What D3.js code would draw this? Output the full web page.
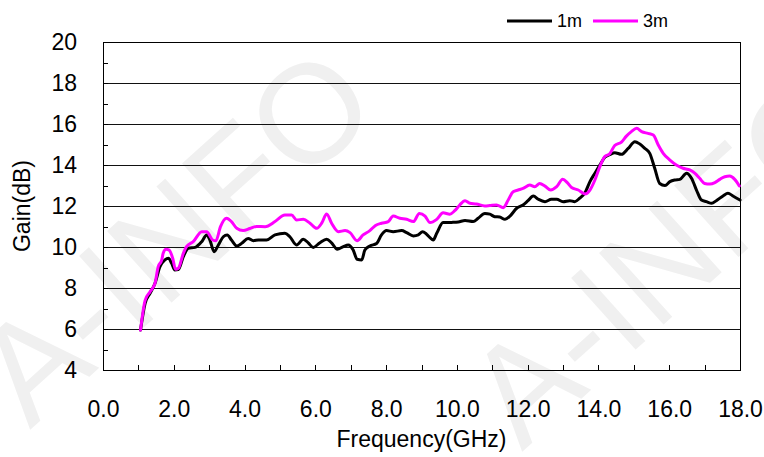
<!DOCTYPE html>
<html>
<head>
<meta charset="utf-8">
<script src="https://cdn.jsdelivr.net/npm/d3@7/dist/d3.min.js"></script>
<style>
  html, body { margin: 0; padding: 0; background: #fff; }
  svg { display: block; font-family: "Liberation Sans", Arial, sans-serif; }
</style>
</head>
<body>
<svg id="chart" width="764" height="457"></svg>
<script>
// ---- data ----
const seriesNames = ["1m", "3m"];
const seriesColors = ["#000000", "#ff00ff"];

const freq1m = [1.06, 1.19, 1.33, 1.47, 1.61, 1.75, 1.85, 1.94, 2.03, 2.13, 2.27, 2.41, 2.6, 2.79, 2.93, 3.02, 3.14, 3.26, 3.4, 3.51, 3.63, 3.78, 3.92, 4.1, 4.25, 4.39,
  4.62, 4.86, 5.14, 5.28, 5.47, 5.66, 5.8, 5.94, 6.13, 6.32, 6.46, 6.62, 6.79, 6.93, 7.07, 7.18, 7.31, 7.4, 7.54, 7.73,
  7.87, 8.01, 8.2, 8.44, 8.58, 8.77, 8.91, 9.03, 9.14, 9.24, 9.33, 9.43, 9.61, 9.85, 10.04, 10.23, 10.46, 10.6, 10.79, 10.93, 11.07, 11.21,
  11.36, 11.5, 11.69, 11.87, 12.01, 12.16, 12.3, 12.49, 12.67, 12.82, 13.0, 13.19, 13.33, 13.47, 13.62, 13.76, 13.9, 14.04, 14.18, 14.32, 14.46,
  14.65, 14.84, 15.03, 15.17, 15.31, 15.45, 15.59, 15.73, 15.88, 16.02, 16.16, 16.3, 16.49, 16.63, 16.77, 16.91, 17.05, 17.2, 17.33, 17.52, 17.66, 17.8, 18.0];
const gain1m = [5.95, 7.25, 7.74, 8.23, 9.04, 9.37, 9.45, 9.2, 8.88, 8.9, 9.53, 9.94, 9.98, 10.26, 10.59, 10.34, 9.77, 10.1, 10.5, 10.59, 10.34, 10.05, 10.18, 10.42, 10.31, 10.34,
  10.34, 10.59, 10.67, 10.5, 10.1, 10.38, 10.2, 9.98, 10.21, 10.38, 10.2, 9.89, 10.02, 10.1, 9.85, 9.4, 9.37, 9.85, 10.05, 10.17,
  10.59, 10.8, 10.75, 10.8, 10.7, 10.54, 10.59, 10.75, 10.63, 10.46, 10.34, 10.67, 11.19, 11.2, 11.22, 11.29, 11.24, 11.4, 11.64, 11.6, 11.48, 11.46,
  11.35, 11.51, 11.89, 12.05, 12.26, 12.49, 12.33, 12.21, 12.33, 12.33, 12.21, 12.26, 12.21, 12.38, 12.65, 13.19, 13.6, 14.0, 14.38, 14.5, 14.6,
  14.52, 14.81, 15.14, 15.02, 14.81, 14.57, 13.84, 13.1, 13.0, 13.19, 13.27, 13.3, 13.6, 13.35, 12.78, 12.29, 12.21, 12.13, 12.26, 12.49, 12.62, 12.49, 12.29];

const freq3m = [1.06, 1.19, 1.33, 1.47, 1.56, 1.66, 1.7, 1.78, 1.87, 1.97, 2.05, 2.13, 2.27, 2.36, 2.55, 2.79, 2.93, 3.1, 3.19, 3.32, 3.49, 3.63, 3.78, 3.96, 4.15, 4.34,
  4.58, 4.86, 5.14, 5.33, 5.47, 5.66, 5.85, 6.04, 6.18, 6.32, 6.46, 6.65, 6.84, 6.98, 7.18, 7.35, 7.54, 7.7, 7.87, 8.06, 8.2, 8.39, 8.58, 8.77,
  8.94, 9.1, 9.24, 9.43, 9.61, 9.8, 9.94, 10.08, 10.23, 10.37, 10.55, 10.79, 10.93, 11.12, 11.31, 11.45, 11.59, 11.73, 11.87, 12.06, 12.2, 12.34,
  12.49, 12.65, 12.82, 12.99, 13.12, 13.24, 13.43, 13.62, 13.76, 13.9, 14.04, 14.18, 14.32, 14.46, 14.65, 14.79, 14.93, 15.08, 15.22, 15.4, 15.55,
  15.69, 15.83, 16.02, 16.2, 16.39, 16.58, 16.72, 16.86, 17.0, 17.15, 17.29, 17.43, 17.57, 17.71, 17.85, 17.98];
const gain3m = [5.95, 7.4, 7.82, 8.23, 9.04, 9.37, 9.69, 9.89, 9.85, 9.45, 8.91, 8.96, 9.69, 10.02, 10.26, 10.75, 10.75, 10.34, 10.3, 10.99, 11.4, 11.24, 10.91, 10.8, 10.9, 11.0,
  10.99, 11.24, 11.56, 11.56, 11.32, 11.35, 11.16, 10.91, 11.16, 11.61, 11.16, 10.75, 10.8, 10.7, 10.31, 10.59, 10.8, 11.05, 11.16, 11.24, 11.51, 11.4, 11.35, 11.24,
  11.64, 11.51, 11.19, 11.35, 11.67, 11.6, 11.77, 12.05, 12.26, 12.13, 12.1, 12.0, 12.02, 12.05, 11.92, 12.29, 12.7, 12.78, 12.86, 13.02, 12.94, 13.1,
  12.97, 12.78, 12.94, 13.3, 13.14, 12.9, 12.78, 12.59, 12.78, 13.27, 13.92, 14.41, 14.55, 14.95, 15.12, 15.41, 15.63, 15.79, 15.63, 15.54, 15.46,
  14.98, 14.57, 14.24, 14.0, 13.84, 13.76, 13.6, 13.35, 13.1, 13.07, 13.14, 13.3, 13.43, 13.46, 13.3, 12.98];

const xTickValues = [0, 2, 4, 6, 8, 10, 12, 14, 16, 18];
const yTickValues = [4, 6, 8, 10, 12, 14, 16, 18, 20];
const xLabel = "Frequency(GHz)";
const yLabel = "Gain(dB)";

// ---- layout ----
const W = 764, H = 457;
const m = { left: 103, top: 42, right: 24, bottom: 87 };
const pw = W - m.left - m.right, ph = H - m.top - m.bottom;
const FONT = "Liberation Sans, Arial, sans-serif";

const svg = d3.select("#chart");

// faint watermark
const wm = svg.append("g").attr("fill", "#f0f0f0").attr("font-size", 140).attr("font-family", FONT);
wm.append("text").attr("transform", "translate(30,430) rotate(-42)").text("A-INFO");
wm.append("text").attr("transform", "translate(522,452) rotate(-42)").text("A-INFO");

const x = d3.scaleLinear().domain([0, 18]).range([0, pw]);
const y = d3.scaleLinear().domain([4, 20]).range([ph, 0]);

const g = svg.append("g").attr("transform", `translate(${m.left},${m.top})`);

// gridlines
g.append("g").selectAll("line").data(d3.range(6, 20, 2)).join("line")
  .attr("x1", 0).attr("x2", pw)
  .attr("y1", d => Math.round(y(d)) + 0.5).attr("y2", d => Math.round(y(d)) + 0.5)
  .attr("stroke", "#111").attr("stroke-width", 1);

// inward ticks
g.append("g").selectAll("line").data(d3.range(5, 20, 1)).join("line")
  .attr("x1", 0).attr("x2", 5)
  .attr("y1", d => Math.round(y(d)) + 0.5).attr("y2", d => Math.round(y(d)) + 0.5)
  .attr("stroke", "#000");
g.append("g").selectAll("line").data(d3.range(1, 18, 1)).join("line")
  .attr("x1", d => Math.round(x(d)) + 0.5).attr("x2", d => Math.round(x(d)) + 0.5)
  .attr("y1", ph).attr("y2", ph - 5)
  .attr("stroke", "#000");

// axes labels via d3 axis
const xAxis = d3.axisBottom(x).tickValues(xTickValues).tickFormat(d3.format(".1f")).tickSize(0).tickPadding(31);
const yAxis = d3.axisLeft(y).tickValues(yTickValues).tickFormat(d3.format("d")).tickSize(0).tickPadding(26);
const gx = g.append("g").attr("transform", `translate(0,${ph})`).call(xAxis);
const gy = g.append("g").call(yAxis);
[gx, gy].forEach(a => {
  a.select(".domain").remove();
  a.selectAll("text").attr("font-size", 23).attr("fill", "#000").attr("font-family", FONT);
});

// box
g.append("rect").attr("x", 0.5).attr("y", 0.5).attr("width", pw).attr("height", ph)
  .attr("fill", "none").attr("stroke", "#000").attr("stroke-width", 1);

// lines
const line = d3.line().x(d => x(d[0])).y(d => y(d[1])).curve(d3.curveMonotoneX);
const data1 = freq1m.map((f, i) => [f, gain1m[i]]);
const data3 = freq3m.map((f, i) => [f, gain3m[i]]);
[data1, data3].forEach((d, i) => {
  g.append("path").datum(d).attr("d", line)
    .attr("fill", "none").attr("stroke", seriesColors[i]).attr("stroke-width", 3)
    .attr("stroke-linejoin", "round").attr("stroke-linecap", "round");
});

// axis titles
svg.append("text").attr("x", m.left + pw / 2).attr("y", 447).attr("text-anchor", "middle")
  .attr("font-size", 23).attr("font-family", FONT).text(xLabel);
svg.append("text").attr("transform", `translate(30,${m.top + ph / 2}) rotate(-90)`)
  .attr("text-anchor", "middle").attr("font-size", 23).attr("font-family", FONT).text(yLabel);

// legend
const legX = [507, 593];
seriesNames.forEach((n, i) => {
  const lg = svg.append("g").attr("transform", `translate(${legX[i]},21)`);
  lg.append("line").attr("x1", 0).attr("x2", 45).attr("y1", 0).attr("y2", 0)
    .attr("stroke", seriesColors[i]).attr("stroke-width", 3);
  lg.append("text").attr("x", 50).attr("y", 6).attr("font-size", 18).attr("font-family", FONT).text(n);
});
</script>
</body>
</html>
